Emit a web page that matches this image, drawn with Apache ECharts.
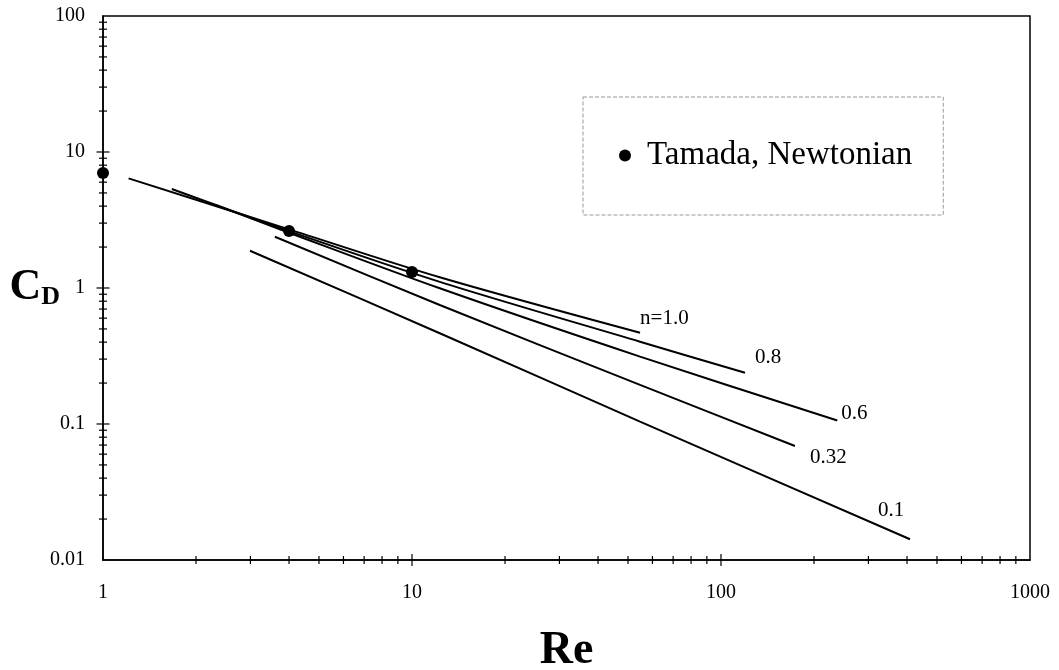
<!DOCTYPE html>
<html><head><meta charset="utf-8">
<script src="https://cdn.jsdelivr.net/npm/echarts@6/dist/echarts.min.js"></script>
<style>html,body{margin:0;background:#fff}#c{width:1059px;height:670px}</style>
</head><body><div id="c"></div>
<script>
// Tamada, Newtonian points
const tamadaRe = [1, 4, 10];
const tamadaCd = [7.0, 2.62, 1.31];
// Curves for flow index n
const n10Re = [1.21, 4, 12.3, 54.7];
const n10Cd = [6.4, 2.7, 1.2, 0.469];
const n08Re = [1.67, 4, 12.3, 54.7, 119.6];
const n08Cd = [5.35, 2.62, 1.11, 0.403, 0.238];
const n06Re = [2.3, 4, 12.3, 54.7, 237.9];
const n06Cd = [4.1, 2.55, 0.995, 0.313, 0.106];
const n032Re = [3.6, 12.3, 54.7, 173.5];
const n032Cd = [2.38, 0.75, 0.194, 0.0689];
const n01Re = [2.99, 12.3, 54.7, 409];
const n01Cd = [1.88, 0.465, 0.104, 0.0142];
const curveLabels = ['n=1.0', '0.8', '0.6', '0.32', '0.1'];
// tick values
const xMajorTicks = [10, 100];
const xMinorTicks = [2,3,4,5,6,7,8,9,20,30,40,50,60,70,80,90,200,300,400,500,600,700,800,900];
const yMajorTicks = [0.1, 1, 10];
const yMinorTicks = [0.02,0.03,0.04,0.05,0.06,0.07,0.08,0.09,0.2,0.3,0.4,0.5,0.6,0.7,0.8,0.9,2,3,4,5,6,7,8,9,20,30,40,50,60,70,80,90];

const FONT = 'Liberation Serif';
const zip = (a, b) => a.map((v, i) => [v, b[i]]);
const curves = [[n10Re, n10Cd], [n08Re, n08Cd], [n06Re, n06Cd], [n032Re, n032Cd], [n01Re, n01Cd]];
const labelOffsets = [[0, -14], [10, -15], [4, -7], [15, 11], [-32, -29]];

const lineSeries = curves.map((c, i) => ({
  type: 'line',
  name: curveLabels[i],
  data: zip(c[0], c[1]),
  showSymbol: false,
  symbol: 'none',
  smooth: 0.3,
  lineStyle: { color: '#000', width: 2 },
  endLabel: {
    show: true, formatter: curveLabels[i], distance: 0, offset: labelOffsets[i],
    fontFamily: FONT, fontSize: 21, color: '#000'
  },
  silent: true,
  z: 3
}));

function tickSeries(data, size) {
  return {
    type: 'scatter', data: data, symbol: 'rect', symbolSize: size,
    itemStyle: { color: '#000', opacity: 1 }, clip: false, silent: true, z: 5
  };
}

const chart = echarts.init(document.getElementById('c'), null, { renderer: 'canvas' });
chart.setOption({
  animation: false,
  backgroundColor: '#fff',
  grid: { left: 103, top: 16, right: 29, bottom: 110, show: true, borderColor: '#000', borderWidth: 1.5,
    backgroundColor: 'transparent', containLabel: false, outerBoundsMode: 'none' },
  legend: {
    data: ['Tamada, Newtonian'],
    left: 583, top: 97,
    padding: [42, 31, 43, 36],
    icon: 'circle', itemWidth: 12, itemHeight: 12,
    borderColor: '#999', borderWidth: 1, borderType: 'dashed',
    textStyle: { fontFamily: FONT, fontSize: 33, color: '#000', padding: [0, 0, 0, 11] },
    itemStyle: { color: '#000', opacity: 1 },
    selectedMode: false
  },
  xAxis: {
    type: 'log', logBase: 10, min: 1, max: 1000,
    axisLine: { show: true, lineStyle: { color: '#000', width: 1.5 } },
    axisTick: { show: false },
    splitLine: { show: false },
    axisLabel: { fontFamily: FONT, fontSize: 20, color: '#000', margin: 23,
      formatter: v => String(Number(Number(v).toPrecision(6))) },
    name: 'Re', nameLocation: 'middle', nameGap: 68, nameMoveOverlap: false,
    nameTextStyle: { fontFamily: FONT, fontSize: 46, fontWeight: 'bold', color: '#000' }
  },
  yAxis: {
    type: 'log', logBase: 10, min: 0.01, max: 100,
    axisLine: { show: true, lineStyle: { color: '#000', width: 1.5 } },
    axisTick: { show: false },
    splitLine: { show: false },
    axisLabel: { fontFamily: FONT, fontSize: 20, color: '#000', margin: 18,
      formatter: v => String(Number(Number(v).toPrecision(6))) },
    name: '{c|C}{d|D}', nameLocation: 'middle', nameRotate: 0, nameGap: 43, nameMoveOverlap: false,
    nameTextStyle: {
      rich: {
        c: { fontFamily: FONT, fontSize: 44, fontWeight: 'bold', color: '#000' },
        d: { fontFamily: FONT, fontSize: 26, fontWeight: 'bold', color: '#000', verticalAlign: 'bottom', padding: [14, 0, 0, 0] }
      }
    }
  },
  series: [
    ...lineSeries,
    {
      type: 'scatter', name: 'Tamada, Newtonian',
      data: zip(tamadaRe, tamadaCd),
      symbol: 'circle', symbolSize: 12,
      itemStyle: { color: '#000', opacity: 1 }, clip: false, z: 6
    },
    tickSeries(xMinorTicks.map(v => [v, 0.01]), [1.2, 8]),
    tickSeries(xMajorTicks.map(v => [v, 0.01]), [1.2, 12]),
    tickSeries(yMinorTicks.map(v => [1, v]), [8, 1.2]),
    tickSeries(yMajorTicks.map(v => [1, v]), [13, 1.2])
  ]
});
</script>
</body></html>
